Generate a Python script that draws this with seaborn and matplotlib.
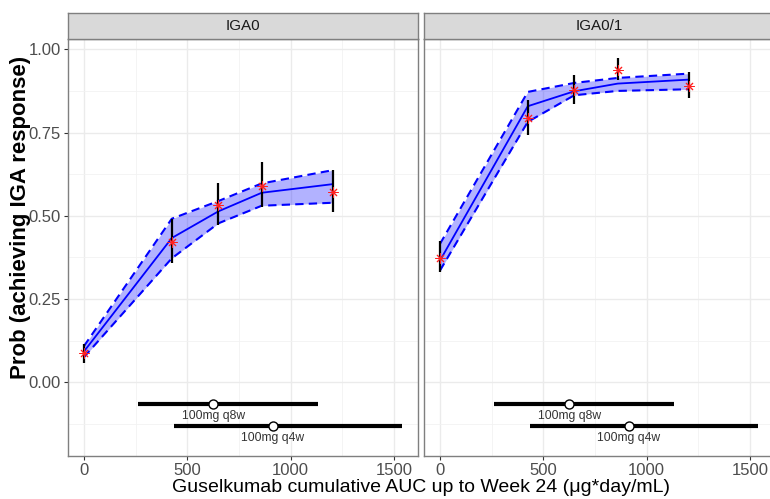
import matplotlib
matplotlib.use("Agg")
import matplotlib.pyplot as plt
import seaborn as sns
import pandas as pd
import numpy as np

# ---- data ----
panels = ["IGA0", "IGA0/1"]
auc = [0, 425, 650, 860, 1205]

obs_iga0 = [0.086, 0.421, 0.531, 0.589, 0.571]
obs_lo_iga0 = [0.058, 0.357, 0.471, 0.527, 0.510]
obs_hi_iga0 = [0.114, 0.490, 0.598, 0.660, 0.637]
pred_iga0 = [0.092, 0.433, 0.513, 0.569, 0.595]
pred_lo_iga0 = [0.075, 0.372, 0.477, 0.530, 0.539]
pred_hi_iga0 = [0.108, 0.491, 0.544, 0.597, 0.637]

obs_iga01 = [0.374, 0.795, 0.879, 0.939, 0.889]
obs_lo_iga01 = [0.331, 0.742, 0.835, 0.907, 0.854]
obs_hi_iga01 = [0.423, 0.847, 0.922, 0.974, 0.932]
pred_iga01 = [0.365, 0.829, 0.874, 0.897, 0.909]
pred_lo_iga01 = [0.335, 0.782, 0.862, 0.875, 0.880]
pred_hi_iga01 = [0.415, 0.872, 0.899, 0.914, 0.927]

regimens = ["100mg q8w", "100mg q4w"]
exp_lo = [260, 434]
exp_med = [626, 913]
exp_hi = [1134, 1539]
exp_y = [-0.066, -0.131]

xticks = [0, 500, 1000, 1500]
yticks = [0.00, 0.25, 0.50, 0.75, 1.00]
ytick_labels = ["0.00", "0.25", "0.50", "0.75", "1.00"]

panel_data = {
    "IGA0": (obs_iga0, obs_lo_iga0, obs_hi_iga0, pred_iga0, pred_lo_iga0, pred_hi_iga0),
    "IGA0/1": (obs_iga01, obs_lo_iga01, obs_hi_iga01, pred_iga01, pred_lo_iga01, pred_hi_iga01),
}

sns.set_theme(style="white")
plt.rcParams["font.family"] = ["Liberation Sans", "DejaVu Sans"]

fig = plt.figure(figsize=(7.7, 4.99), dpi=100)
W, H = 770.0, 499.0
pan_top, pan_bot = 39, 456
strip_top = 13
lefts = [68, 424]
pw = 350

for i, name in enumerate(panels):
    ax = fig.add_axes([lefts[i] / W, 1 - pan_bot / H, pw / W, (pan_bot - pan_top) / H])
    sax = fig.add_axes([lefts[i] / W, 1 - pan_top / H, pw / W, (pan_top - strip_top) / H])
    obs, olo, ohi, pr, plo, phi = panel_data[name]
    df = pd.DataFrame({"auc": auc, "obs": obs, "lo": olo, "hi": ohi,
                       "pred": pr, "plo": plo, "phi": phi})

    # grid
    ax.set_xlim(-77, 1616)
    ax.set_ylim(-0.222, 1.031)
    ax.set_xticks(xticks)
    ax.set_yticks(yticks)
    ax.set_xticks([250, 750, 1250], minor=True)
    ax.set_yticks([-0.125, 0.125, 0.375, 0.625, 0.875], minor=True)
    ax.grid(True, which="major", color="#EBEBEB", lw=1.0, zorder=0)
    ax.grid(True, which="minor", color="#F2F2F2", lw=0.6, zorder=0)
    ax.set_axisbelow(True)

    # predicted band
    ax.fill_between(df["auc"], df["plo"], df["phi"], color="#0000FF", alpha=0.3, lw=0, zorder=2)
    sns.lineplot(data=df, x="auc", y="plo", ax=ax, color="#0000FF", lw=1.5, ls=(0, (4, 2.5)), zorder=3)
    sns.lineplot(data=df, x="auc", y="phi", ax=ax, color="#0000FF", lw=1.5, ls=(0, (4, 2.5)), zorder=3)
    sns.lineplot(data=df, x="auc", y="pred", ax=ax, color="#0000FF", lw=1.3, zorder=3)

    # observed with error bars
    ax.vlines(df["auc"], df["lo"], df["hi"], color="black", lw=1.6, zorder=4)
    sns.scatterplot(data=df, x="auc", y="obs", ax=ax, marker=(8, 2, 0), s=45,
                    color="#FF2020", linewidth=0.7, edgecolor="#FF2020", zorder=5)

    # exposure bars
    for reg, lo, med, hi, yy in zip(regimens, exp_lo, exp_med, exp_hi, exp_y):
        ax.hlines(yy, lo, hi, color="black", lw=3, zorder=4)
        ax.plot([med], [yy], "o", ms=6.5, mfc="white", mec="black", mew=1.0, zorder=5)
        ax.text(med, yy - 0.036, reg, ha="center", va="center", fontsize=8.7, color="#333333")

    ax.set_xlabel("")
    ax.set_ylabel("")
    ax.tick_params(axis="both", which="major", length=3, color="#333333", width=0.8, pad=2,
                   labelsize=12, labelcolor="#4D4D4D", bottom=True, left=(i == 0))
    ax.tick_params(which="minor", length=0)
    ax.set_xticklabels([str(t) for t in xticks])
    if i == 0:
        ax.set_yticklabels(ytick_labels)
    else:
        ax.set_yticklabels([])
    for sp in ax.spines.values():
        sp.set_color("#7F7F7F")
        sp.set_linewidth(1.0)

    # strip
    sax.set_xticks([])
    sax.set_yticks([])
    sax.set_facecolor("#D9D9D9")
    for sp in sax.spines.values():
        sp.set_color("#7F7F7F")
        sp.set_linewidth(1.0)
    sax.text(0.5, 0.5, name, ha="center", va="center", fontsize=11, color="#1A1A1A",
             transform=sax.transAxes)

fig.text(21 / W, 1 - 217 / H, "Prob (achieving IGA response)", rotation=90, ha="center",
         va="center", fontsize=16, fontweight="bold", color="black")
fig.text(421 / W, 1 - 488 / H, "Guselkumab cumulative AUC up to Week 24 (\u03bcg*day/mL)",
         ha="center", va="center", fontsize=14, color="black")

fig.savefig("out.png", dpi=100)
